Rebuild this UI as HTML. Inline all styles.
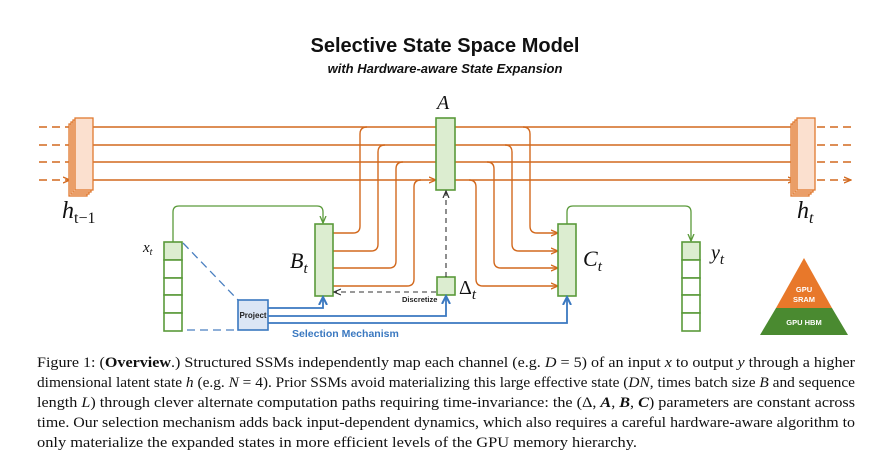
<!DOCTYPE html>
<html><head><meta charset="utf-8"><style>
html,body{margin:0;padding:0;background:#fff;}
svg{display:block;}
</style></head><body>
<svg width="875" height="465" viewBox="0 0 875 465" xmlns="http://www.w3.org/2000/svg">
<defs>
<marker id="ao" markerWidth="8" markerHeight="8" refX="7" refY="4" orient="auto" markerUnits="userSpaceOnUse"><path d="M0,1 L7,4 L0,7" fill="none" stroke="#d2691e" stroke-width="1.3"/></marker>
<marker id="ag" markerWidth="8" markerHeight="8" refX="7" refY="4" orient="auto" markerUnits="userSpaceOnUse"><path d="M0,1 L7,4 L0,7" fill="none" stroke="#5a9a3a" stroke-width="1.3"/></marker>
<marker id="ab" markerWidth="10" markerHeight="10" refX="8" refY="5" orient="auto" markerUnits="userSpaceOnUse"><path d="M0,1 L8,5 L0,9" fill="none" stroke="#3a78c0" stroke-width="2"/></marker>
<marker id="ak" markerWidth="8" markerHeight="8" refX="7" refY="4" orient="auto" markerUnits="userSpaceOnUse"><path d="M0,1 L7,4 L0,7" fill="none" stroke="#333" stroke-width="1.2"/></marker>
</defs>
<text x="445" y="52" text-anchor="middle" font-family="Liberation Sans, sans-serif" font-weight="bold" font-size="20" fill="#111">Selective State Space Model</text>
<text x="445" y="73" text-anchor="middle" font-family="Liberation Sans, sans-serif" font-weight="bold" font-style="italic" font-size="13" fill="#111">with Hardware-aware State Expansion</text>

<g stroke="#d2691e" stroke-width="1.4" fill="none">
<!-- dashed left -->
<path d="M39 127H70M39 145H70M39 162H70M39 180H70" stroke-dasharray="8,5" marker-end="url(#ao)"/>
<path d="M817 127H851M817 145H851M817 162H851M817 180H851" stroke-dasharray="8,5" marker-end="url(#ao)"/>
<!-- main lines to A -->
<path d="M93 127H436M93 145H436M93 162H436M93 180H436" marker-end="url(#ao)"/>
<path d="M455 127H795M455 145H795M455 162H795M455 180H795" marker-end="url(#ao)"/>
<!-- B outputs curving up -->
<path d="M333 233H353Q360 233 360 226V134Q360 127 367 127"/>
<path d="M333 251H371Q378 251 378 244V152Q378 145 385 145"/>
<path d="M333 268H389Q396 268 396 261V169Q396 162 403 162"/>
<path d="M333 286H407Q414 286 414 279V187Q414 180 421 180"/>
<!-- A outputs curving down to C -->
<path d="M523 127Q530 127 530 134V226Q530 233 537 233H558" marker-end="url(#ao)"/>
<path d="M505 145Q512 145 512 152V244Q512 251 519 251H558" marker-end="url(#ao)"/>
<path d="M487 162Q494 162 494 169V261Q494 268 501 268H558" marker-end="url(#ao)"/>
<path d="M469 180Q476 180 476 187V279Q476 286 483 286H558" marker-end="url(#ao)"/>
</g>
<!-- h_{t-1} stack -->
<g stroke="#e07a30" stroke-width="1.3" fill="#fbe0cf">
<rect x="69" y="124" width="18" height="72"/><rect x="71" y="122" width="18" height="72"/><rect x="73" y="120" width="18" height="72"/><rect x="75" y="118" width="18" height="72"/>
<rect x="791" y="124" width="18" height="72"/><rect x="793" y="122" width="18" height="72"/><rect x="795" y="120" width="18" height="72"/><rect x="797" y="118" width="18" height="72"/>
</g>
<g font-family="Liberation Serif, serif" font-style="italic" fill="#111">
<text x="62" y="218" font-size="24">h<tspan font-size="16" dy="5" font-style="normal">t−1</tspan></text>
<text x="797" y="218" font-size="24">h<tspan font-size="16" dy="5">t</tspan></text>
<text x="437" y="109" font-size="20">A</text>
<text x="143" y="252" font-size="15">x<tspan font-size="10" dy="3">t</tspan></text>
<text x="290" y="268" font-size="22">B<tspan font-size="15" dy="5">t</tspan></text>
<text x="583" y="266" font-size="22">C<tspan font-size="15" dy="5">t</tspan></text>
<text x="711" y="259" font-size="20">y<tspan font-size="15" dy="5">t</tspan></text>
<text x="459" y="294" font-size="20" font-style="normal">Δ<tspan font-size="15" dy="5" font-style="italic">t</tspan></text>
</g>
<!-- green boxes -->
<g stroke="#5a9a3a" stroke-width="1.6" fill="#dcedd0">
<rect x="436" y="118" width="19" height="72"/>
<rect x="315" y="224" width="18" height="72"/>
<rect x="558" y="224" width="18" height="72"/>
<rect x="437" y="277" width="18" height="18"/>
<rect x="164" y="242" width="18" height="18"/>
<rect x="682" y="242" width="18" height="18"/>
</g>
<g stroke="#5a9a3a" stroke-width="1.6" fill="#fff">
<rect x="164" y="260" width="18" height="18"/><rect x="164" y="278" width="18" height="17"/><rect x="164" y="295" width="18" height="18"/><rect x="164" y="313" width="18" height="18"/>
<rect x="682" y="260" width="18" height="18"/><rect x="682" y="278" width="18" height="17"/><rect x="682" y="295" width="18" height="18"/><rect x="682" y="313" width="18" height="18"/>
</g>
<g stroke="#5a9a3a" stroke-width="1.3" fill="none">
<path d="M173 242V212Q173 206 179 206H317Q323 206 323 212V223" marker-end="url(#ag)"/>
<path d="M567 224V212Q567 206 573 206H685Q691 206 691 212V241" marker-end="url(#ag)"/>
</g>
<!-- dashed black -->
<g stroke="#333" stroke-width="1.1" fill="none" stroke-dasharray="5,4">
<path d="M446 277V191" marker-end="url(#ak)"/>
<path d="M436 292H334" marker-end="url(#ak)"/>
</g>
<text x="402" y="302" font-family="Liberation Sans, sans-serif" font-weight="bold" font-size="7.5" fill="#222">Discretize</text>
<!-- blue -->
<g stroke="#4a7fc0" stroke-width="1.3" fill="none" stroke-dasharray="8,5">
<path d="M183 243L238 300"/><path d="M187 330H238"/>
</g>
<rect x="238" y="300" width="30" height="30" fill="#dbe6f5" stroke="#3a78c0" stroke-width="1.6"/>
<text x="253" y="318" text-anchor="middle" font-family="Liberation Sans, sans-serif" font-weight="bold" font-size="8" fill="#222">Project</text>
<g stroke="#3a78c0" stroke-width="1.8" fill="none">
<path d="M268 308H323V297" marker-end="url(#ab)"/>
<path d="M268 316H446V296" marker-end="url(#ab)"/>
<path d="M268 323H567V297" marker-end="url(#ab)"/>
</g>
<text x="292" y="337" font-family="Liberation Sans, sans-serif" font-weight="bold" font-size="10.5" fill="#3a78c0">Selection Mechanism</text>
<!-- pyramid -->
<polygon points="804,258 832,308 776,308" fill="#e8782a"/>
<polygon points="776,308 832,308 848,335 760,335" fill="#4a8a30"/>
<text x="804" y="292" text-anchor="middle" font-family="Liberation Sans, sans-serif" font-weight="bold" font-size="7.5" fill="#fff">GPU</text>
<text x="804" y="302" text-anchor="middle" font-family="Liberation Sans, sans-serif" font-weight="bold" font-size="7.5" fill="#fff">SRAM</text>
<text x="804" y="325" text-anchor="middle" font-family="Liberation Sans, sans-serif" font-weight="bold" font-size="7.5" fill="#fff">GPU HBM</text>
<!-- caption -->
<g font-family="Liberation Serif, serif" font-size="14.5" fill="#111">
<text x="37" y="367" textLength="818" lengthAdjust="spacingAndGlyphs">Figure 1: (<tspan font-weight="bold">Overview</tspan>.) Structured SSMs independently map each channel (e.g. <tspan font-style="italic">D</tspan> = 5) of an input <tspan font-style="italic">x</tspan> to output <tspan font-style="italic">y</tspan> through a higher</text>
<text x="37" y="387" textLength="818" lengthAdjust="spacingAndGlyphs">dimensional latent state <tspan font-style="italic">h</tspan> (e.g. <tspan font-style="italic">N</tspan> = 4). Prior SSMs avoid materializing this large effective state (<tspan font-style="italic">DN</tspan>, times batch size <tspan font-style="italic">B</tspan> and sequence</text>
<text x="37" y="407" textLength="818" lengthAdjust="spacingAndGlyphs">length <tspan font-style="italic">L</tspan>) through clever alternate computation paths requiring time-invariance: the (Δ, <tspan font-weight="bold" font-style="italic">A</tspan>, <tspan font-weight="bold" font-style="italic">B</tspan>, <tspan font-weight="bold" font-style="italic">C</tspan>) parameters are constant across</text>
<text x="37" y="427" textLength="818" lengthAdjust="spacingAndGlyphs">time. Our selection mechanism adds back input-dependent dynamics, which also requires a careful hardware-aware algorithm to</text>
<text x="37" y="447" textLength="600" lengthAdjust="spacingAndGlyphs">only materialize the expanded states in more efficient levels of the GPU memory hierarchy.</text>
</g>
</svg>
</body></html>
